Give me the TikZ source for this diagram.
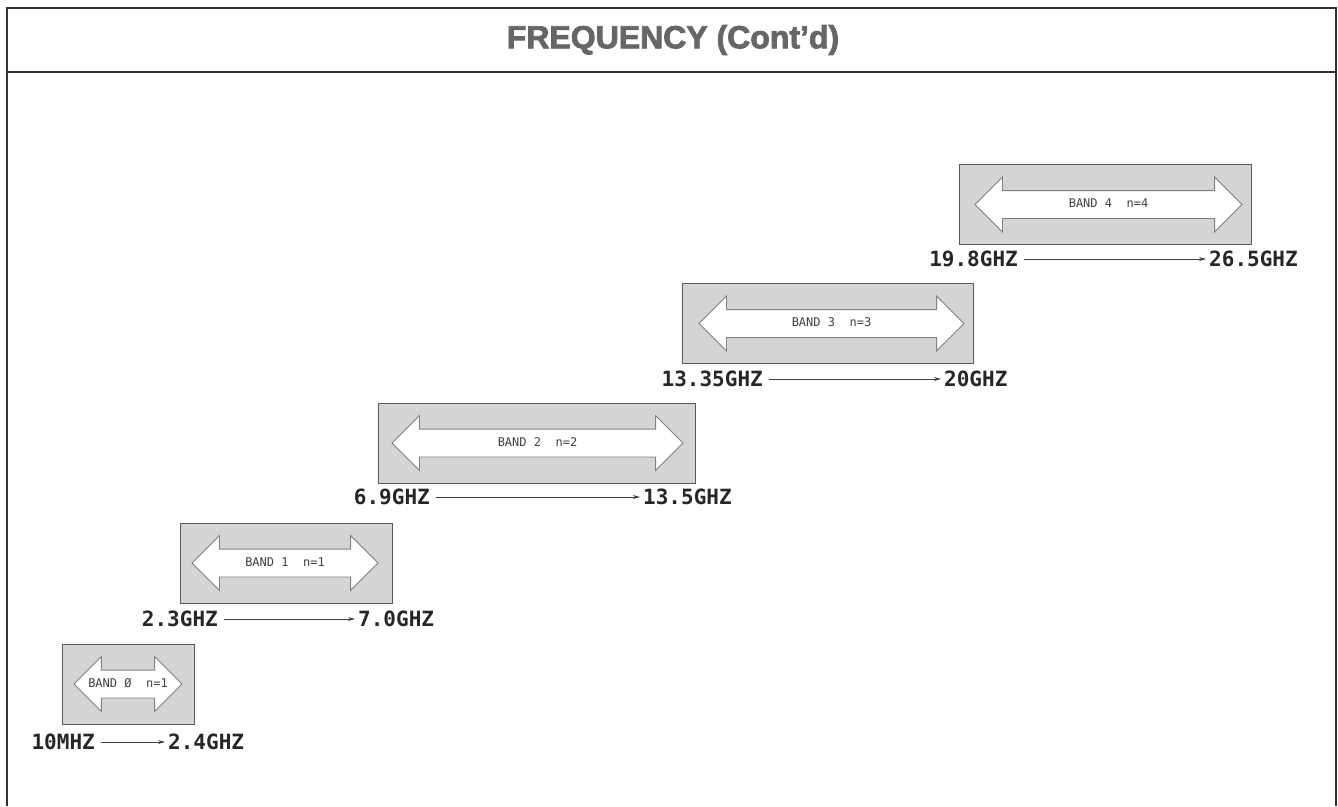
\documentclass[tikz,border=0pt]{standalone}
\usepackage{fontspec}
\setmainfont{Liberation Sans}
\newfontfamily\labelfont{DejaVu Sans Mono}
\newfontfamily\titlefont[FakeBold=2.5]{Liberation Sans Bold}
\usetikzlibrary{arrows.meta,shapes.arrows}

\tikzset{
  bandbox/.style={draw=black!65, fill=black!17, line width=0.8pt, minimum height=80pt, inner sep=0pt},
  bandarrow/.style={shape=double arrow, draw=black!50, fill=white, line width=0.8pt,
    double arrow head extend=13.5pt, double arrow tip angle=90, minimum width=54pt,
    inner xsep=0pt, inner ysep=8pt, text height=8.5pt, text depth=2.5pt,
    font=\labelfont\fontsize{12}{12}\selectfont, text=black!75},
  freq/.style={font=\labelfont\bfseries\fontsize{21}{21}\selectfont, text=black!85, inner sep=0pt},
  span/.style={draw=black!75, line width=0.7pt, -{Stealth[length=7pt,width=4pt]}, shorten <=6pt, shorten >=3pt}
}

\begin{document}
\begin{tikzpicture}[x=1pt, y=-1pt]
        \useasboundingbox (0,0) rectangle (1338,806);

        % frame and title
        \draw[line width=1.2pt, black!80] (7,806) -- (7,8) -- (1336,8) -- (1336,806);
        \draw[line width=1.2pt, black!80] (7,72) -- (1336,72);
        \node (title) at (673,40) {\titlefont\fontsize{32}{32}\selectfont\color{black!60}FREQUENCY (Cont’d)};

        % band 0
        \node[bandbox, minimum width=132pt] (box0) at (128,684) {};
        \node[bandarrow, minimum height=108pt] (arr0) at (128,684) {BAND Ø\ \ n=1};
        \node[freq, anchor=east] (lo0) at (95,742) {10MHZ};
        \node[freq, anchor=west] (hi0) at (168,742) {2.4GHZ};
        \draw[span] (lo0) -- (hi0);

        % band 1
        \node[bandbox, minimum width=212pt] (box1) at (286,563) {};
        \node[bandarrow, minimum height=186pt] (arr1) at (285,563) {BAND 1\ \ n=1};
        \node[freq, anchor=east] (lo1) at (218,619) {2.3GHZ};
        \node[freq, anchor=west] (hi1) at (358,619) {7.0GHZ};
        \draw[span] (lo1) -- (hi1);

        % band 2
        \node[bandbox, minimum width=317pt] (box2) at (536.5,443) {};
        \node[bandarrow, minimum height=291pt] (arr2) at (537.5,443) {BAND 2\ \ n=2};
        \node[freq, anchor=east] (lo2) at (430,497) {6.9GHZ};
        \node[freq, anchor=west] (hi2) at (643,497) {13.5GHZ};
        \draw[span] (lo2) -- (hi2);

        % band 3
        \node[bandbox, minimum width=291pt] (box3) at (827.5,323.5) {};
        \node[bandarrow, minimum height=265pt] (arr3) at (831.5,323.5) {BAND 3\ \ n=3};
        \node[freq, anchor=east] (lo3) at (763,379) {13.35GHZ};
        \node[freq, anchor=west] (hi3) at (944,379) {20GHZ};
        \draw[span] (lo3) -- (hi3);

        % band 4
        \node[bandbox, minimum width=292pt] (box4) at (1105,204.5) {};
        \node[bandarrow, minimum height=267pt] (arr4) at (1108.5,204.5) {BAND 4\ \ n=4};
        \node[freq, anchor=east] (lo4) at (1018,259) {19.8GHZ};
        \node[freq, anchor=west] (hi4) at (1209,259) {26.5GHZ};
        \draw[span] (lo4) -- (hi4);
\end{tikzpicture}
\end{document}
